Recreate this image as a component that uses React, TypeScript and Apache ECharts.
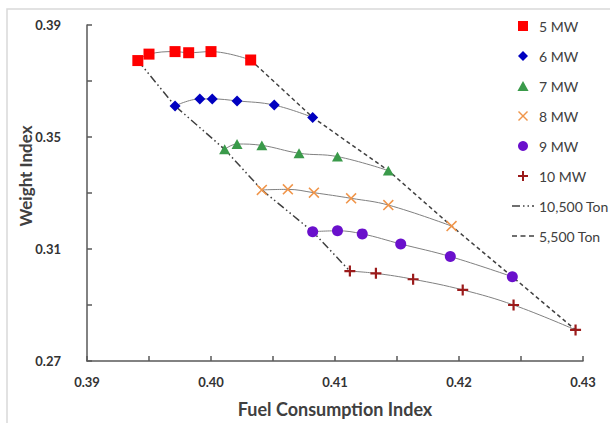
import React, { useEffect, useRef } from "react";
import * as echarts from "echarts";

// Fuel Consumption Index (x) and Weight Index (y) per power level
const fuel5 = [0.3941, 0.395, 0.3971, 0.3982, 0.4, 0.4032];
const weight5 = [0.3773, 0.3796, 0.3805, 0.3801, 0.3805, 0.3775];
const fuel6 = [0.3971, 0.3991, 0.4001, 0.4021, 0.4051, 0.4082];
const weight6 = [0.3611, 0.3636, 0.3636, 0.3629, 0.3614, 0.357];
const fuel7 = [0.4011, 0.4021, 0.4041, 0.4071, 0.4102, 0.4143];
const weight7 = [0.3456, 0.3475, 0.347, 0.3442, 0.343, 0.338];
const fuel8 = [0.4041, 0.4062, 0.4083, 0.4113, 0.4143, 0.4194];
const weight8 = [0.3311, 0.3313, 0.3301, 0.3281, 0.3257, 0.3182];
const fuel9 = [0.4082, 0.4102, 0.4122, 0.4153, 0.4193, 0.4243];
const weight9 = [0.3162, 0.3165, 0.3154, 0.3118, 0.3073, 0.3001];
const fuel10 = [0.4112, 0.4133, 0.4163, 0.4203, 0.4244, 0.4294];
const weight10 = [0.3021, 0.3013, 0.2992, 0.2954, 0.29, 0.2811];

const seriesNames = ["5 MW", "6 MW", "7 MW", "8 MW", "9 MW", "10 MW"];
const tonNames = ["10,500 Ton", "5,500 Ton"];

const xTicks = [0.39, 0.395, 0.4, 0.405, 0.41, 0.415, 0.42, 0.425, 0.43];
const xLabels = [0.39, 0.4, 0.41, 0.42, 0.43];
const yTicks = [0.27, 0.29, 0.31, 0.33, 0.35, 0.37, 0.39];
const yLabels = [0.27, 0.31, 0.35, 0.39];

const SQ = "path://M0,0 H10 V10 H0 Z";
const DIA = "path://M5,0 L10,5 L5,10 L0,5 Z";
const TRI = "path://M5,0 L10,9 L0,9 Z";
const XSYM = "path://M0,1 L1,0 L5,4 L9,0 L10,1 L6,5 L10,9 L9,10 L5,6 L1,10 L0,9 L4,5 Z";
const PSYM = "path://M4,0 H6 V4 H10 V6 H6 V10 H4 V6 H0 V4 H4 Z";
const CIR = "circle";
const DASHDOT_ICON =
  "path://M0,0 H8 V1.5 H0 Z M11,0 H12.5 V1.5 H11 Z M15.5,0 H17 V1.5 H15.5 Z M20,0 H22 V1.5 H20 Z";
const DASHED_ICON = "path://M0,0 H5 V1.5 H0 Z M8.5,0 H13.5 V1.5 H8.5 Z M17,0 H22 V1.5 H17 Z";

const groups = [
  { fuel: fuel5, weight: weight5, color: "#FF0000", symbol: SQ, size: 11 },
  { fuel: fuel6, weight: weight6, color: "#0000C0", symbol: DIA, size: 11 },
  { fuel: fuel7, weight: weight7, color: "#3A9A4A", symbol: TRI, size: 11 },
  { fuel: fuel8, weight: weight8, color: "#F0954A", symbol: XSYM, size: 11 },
  { fuel: fuel9, weight: weight9, color: "#6A10CC", symbol: CIR, size: 11 },
  { fuel: fuel10, weight: weight10, color: "#9B1B1B", symbol: PSYM, size: 11 },
];

const FONT = "Lato";

export default function App() {
  const ref = useRef<HTMLDivElement>(null);
  useEffect(() => {
    if (!ref.current) return;
    const chart = echarts.init(ref.current, null, { renderer: "svg" });
    const pts = (g: any) => g.fuel.map((f: number, i: number) => [f, g.weight[i]]);
    const series: any[] = [];
    groups.forEach((g, i) => {
      series.push({
        name: seriesNames[i] + " trend",
        type: "line",
        data: pts(g),
        smooth: 0.4,
        symbol: "none",
        silent: true,
        z: 2,
        lineStyle: { color: "#808080", width: 1 },
      });
    });
    const dashDot = [8, 3, 1.5, 3, 1.5, 3];
    const dashed = [4, 3];
    series.push({
      name: tonNames[0],
      type: "line",
      data: groups.map((g) => [g.fuel[0], g.weight[0]]),
      symbol: "none",
      z: 1,
      lineStyle: { color: "#404040", width: 1.5, type: dashDot },
      itemStyle: { color: "#404040" },
    });
    series.push({
      name: tonNames[1],
      type: "line",
      data: groups.map((g) => [g.fuel[g.fuel.length - 1], g.weight[g.weight.length - 1]]),
      symbol: "none",
      z: 1,
      lineStyle: { color: "#404040", width: 1.5, type: dashed },
      itemStyle: { color: "#404040" },
    });
    groups.forEach((g, i) => {
      series.push({
        name: seriesNames[i],
        type: "scatter",
        data: pts(g),
        symbol: g.symbol,
        symbolSize: g.size,
        symbolKeepAspect: true,
        z: 3,
        itemStyle: { color: g.color, opacity: 1 },
      });
    });

    chart.setOption({
      animation: false,
      backgroundColor: "#ffffff",
      grid: { left: 87, right: 27, top: 25, bottom: 62 },
      legend: {
        orient: "vertical",
        left: 512,
        top: 19,
        padding: 0,
        itemWidth: 22,
        itemHeight: 10,
        itemGap: 16,
        itemTextGap: 5,
        symbolKeepAspect: true,
        textStyle: { fontFamily: FONT, fontSize: 14, color: "#404040" },
        data: [
          ...seriesNames.map((n) => ({ name: n })),
          { name: tonNames[0], icon: DASHDOT_ICON, itemStyle: { color: "#404040" } },
          { name: tonNames[1], icon: DASHED_ICON, itemStyle: { color: "#404040" } },
        ],
      },
      xAxis: {
        type: "value",
        min: 0.39,
        max: 0.43,
        name: "Fuel Consumption Index",
        nameLocation: "middle",
        nameGap: 39,
        nameTextStyle: { fontFamily: FONT, fontSize: 18, fontWeight: "bold", color: "#404040" },
        axisLine: { show: true, lineStyle: { color: "#595959", width: 1.5 } },
        axisTick: { show: true, inside: true, length: 5, customValues: xTicks, lineStyle: { color: "#595959", width: 1.5 } },
        axisLabel: {
          customValues: xLabels,
          margin: 14,
          formatter: (v: number) => v.toFixed(2),
          fontFamily: FONT,
          fontSize: 13,
          fontWeight: "bold",
          color: "#333333",
        },
        splitLine: { show: false },
      },
      yAxis: {
        type: "value",
        min: 0.27,
        max: 0.39,
        axisLine: { show: true, lineStyle: { color: "#595959", width: 1.5 } },
        axisTick: { show: true, inside: true, length: 5, customValues: yTicks, lineStyle: { color: "#595959", width: 1.5 } },
        axisLabel: {
          customValues: yLabels,
          margin: 26,
          formatter: (v: number) => v.toFixed(2),
          fontFamily: FONT,
          fontSize: 13,
          fontWeight: "bold",
          color: "#333333",
        },
        splitLine: { show: false },
      },
      graphic: [
        {
          type: "rect",
          shape: { x: 7, y: 9, width: 640, height: 440 },
          style: { fill: "none", stroke: "#d9d9d9", lineWidth: 1.5 },
          silent: true,
          z: -1,
        },
        {
          type: "text",
          x: 25,
          y: 176,
          rotation: Math.PI / 2,
          style: {
            text: "Weight Index",
            fontFamily: FONT,
            fontSize: 17,
            fontWeight: "bold",
            fill: "#404040",
            align: "center",
            verticalAlign: "middle",
          },
        },
      ],
      series,
    });
    return () => chart.dispose();
  }, []);
  return (
    <div
      ref={ref}
      style={{ position: "absolute", left: 0, top: 0, width: 610, height: 423 }}
    />
  );
}
